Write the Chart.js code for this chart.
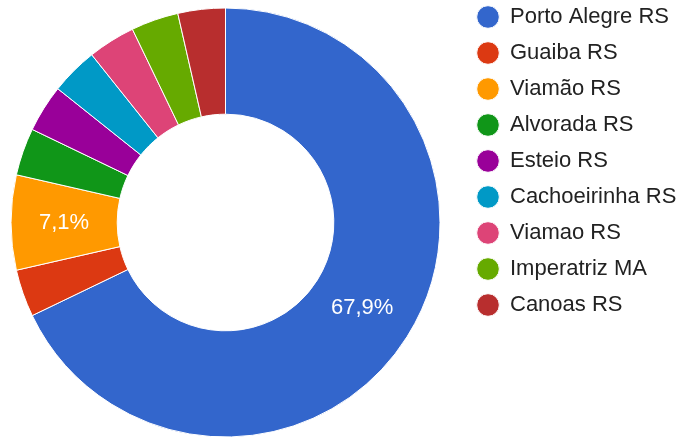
<!DOCTYPE html>
<html>
<head>
<meta charset="utf-8">
<script src="https://cdn.jsdelivr.net/npm/chart.js@4"></script>
<style>
  body { margin: 0; background: #fff; }
  #wrap { width: 689px; height: 438px; }
</style>
</head>
<body>
<div id="wrap"><canvas id="cityChart" width="689" height="438"></canvas></div>
<script>
const cities = ['Porto Alegre RS', 'Guaiba RS', 'Viamão RS', 'Alvorada RS', 'Esteio RS',
  'Cachoeirinha RS', 'Viamao RS', 'Imperatriz MA', 'Canoas RS'];
const counts = [19, 1, 2, 1, 1, 1, 1, 1, 1];
const colors = ['#3366cc', '#dc3912', '#ff9900', '#109618', '#990099',
  '#0099c6', '#dd4477', '#66aa00', '#b82e2e'];

const fontFamily = 'Arial, "Liberation Sans", sans-serif';

// percent labels inside the bigger slices, like google charts
const sliceLabels = {
  id: 'sliceLabels',
  afterDatasetsDraw(chart) {
    const ctx = chart.ctx;
    const meta = chart.getDatasetMeta(0);
    const data = chart.data.datasets[0].data;
    const total = data.reduce((a, b) => a + b, 0);
    ctx.save();
    ctx.font = '22px ' + fontFamily;
    ctx.fillStyle = '#ffffff';
    ctx.textAlign = 'center';
    ctx.textBaseline = 'middle';
    meta.data.forEach((arc, i) => {
      const pct = data[i] / total * 100;
      if (pct < 5) return;
      const p = arc.getCenterPoint();
      ctx.fillText(pct.toFixed(1).replace('.', ',') + '%', p.x, p.y);
    });
    ctx.restore();
  }
};

// the legend sits a bit higher and further right than chart.js puts it
const legendNudge = {
  id: 'legendNudge',
  afterLayout(chart) {
    const lg = chart.legend;
    const h = lg.height;
    lg.left = 463;
    lg.right = chart.width;
    lg.width = lg.right - lg.left;
    lg.top = -8;
    lg.bottom = lg.top + h;
  }
};

const ctx = document.getElementById('cityChart').getContext('2d');
const cityChart = new Chart(ctx, {
  type: 'doughnut',
  data: {
    labels: cities,
    datasets: [{
      data: counts,
      backgroundColor: colors,
      borderColor: '#ffffff',
      borderWidth: 1,
      radius: 214.5,
      cutout: '50.5%'
    }]
  },
  options: {
    responsive: false,
    animation: false,
    layout: { padding: { top: 7, bottom: 0, left: 0, right: 38 } },
    plugins: {
      tooltip: { enabled: false },
      legend: {
        position: 'right',
        align: 'start',
        maxWidth: 200,
        labels: {
          usePointStyle: true,
          pointStyle: 'circle',
          boxWidth: 22,
          boxHeight: 16,
          padding: 14,
          color: '#222222',
          font: { size: 22, family: fontFamily }
        }
      }
    }
  },
  plugins: [sliceLabels, legendNudge]
});
</script>
</body>
</html>
